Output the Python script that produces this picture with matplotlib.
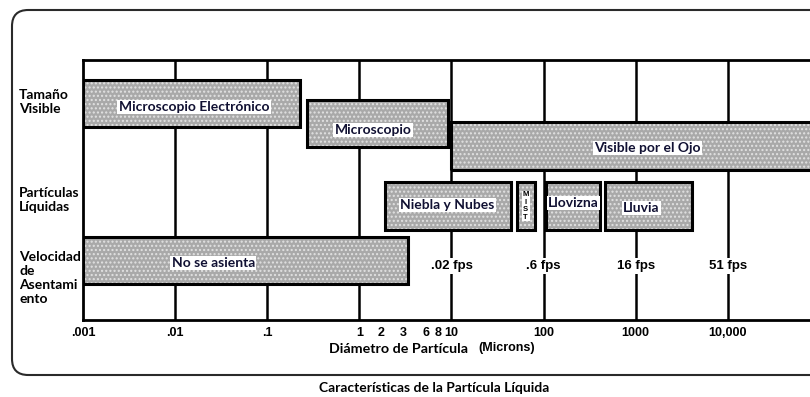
import matplotlib.pyplot as plt
import numpy as np
from matplotlib.patches import Rectangle, FancyBboxPatch
from matplotlib.transforms import ScaledTranslation

# ranges (diameter in microns)
box_labels = ["Microscopio Electrónico", "Microscopio", "Visible por el Ojo",
              "Niebla y Nubes", "MIST", "Llovizna", "Lluvia", "No se asienta"]
box_start = [0.001, 0.27, 10, 1.9, 51, 106, 463, 0.001]
box_end = [0.226, 9.1, 1e5, 44, 80, 408, 4070, 3.4]

fps_labels = [".02 fps", ".6 fps", "16 fps", "51 fps"]
fps_at = [10, 100, 1000, 10000]

tick_pos = [0.001, 0.01, 0.1, 1, 2, 3, 6, 8, 10, 100, 1000, 10000]
tick_text = [".001", ".01", ".1", "1", "2", "3", "6", "8", "10", "100", "1000", "10,000"]

row_labels = ["Tamaño\nVisible", "Partículas\nLíquidas", "Velocidad\nde\nAsentami\nento"]

# layout (y in pixel-like units, 0 = bottom of frame, 260 = top)
box_y = [(193, 240), (173, 220), (150, 198), (90, 138), (90, 138),
         (90, 138), (90, 138), (36, 83)]
label_xy = [(0.016, 213), (1.4, 190), (1350, 172), (9.0, 115), (None, 114),
            (210, 117), (1150, 112), (0.026, 57)]
row_y = [0.838, 0.46, 0.16]
tick_shift = {"2": -6, "6": -5, "8": -4}

TXT = "Lato"
fig = plt.figure(figsize=(8.1, 3.97), dpi=100)

# rounded outer frame
frame = FancyBboxPatch((12 / 810, 22 / 397), 1.2, 365 / 397,
                       boxstyle="round,pad=0,rounding_size=0.02",
                       mutation_aspect=810 / 397, transform=fig.transFigure,
                       fill=False, edgecolor="#2a2a2a", lw=1.5)
fig.patches.append(frame)

ax = fig.add_axes([83 / 810, 77 / 397, 1 - 83 / 810, 260 / 397])
ax.set_xscale("log")
ax.set_xlim(0.001, 7.8e4)
ax.set_ylim(0, 260)
for s in ["top", "bottom", "left"]:
    ax.spines[s].set_linewidth(2)
ax.spines["right"].set_visible(False)
ax.set_yticks([])
ax.set_xticks(tick_pos)
ax.set_xticklabels(tick_text, fontfamily="Liberation Sans", fontweight="bold", fontsize=9)
ax.minorticks_off()
ax.tick_params(axis="x", length=0, pad=5)
for t in ax.get_xticklabels():
    dx = tick_shift.get(t.get_text(), 0)
    if dx:
        t.set_transform(t.get_transform() + ScaledTranslation(dx / 100, 0, fig.dpi_scale_trans))

# decade lines
ax.vlines([0.01, 0.1, 1, 10, 100, 1000, 10000], 0, 260, color="black", lw=1.8, zorder=1)

for lab, x0, x1, (y0, y1), (lx, ly) in zip(box_labels, box_start, box_end, box_y, label_xy):
    ax.add_patch(Rectangle((x0, y0), x1 - x0, y1 - y0, facecolor="#a9a9a9",
                           edgecolor="none", zorder=2))
    ax.add_patch(Rectangle((x0, y0), x1 - x0, y1 - y0, fill=False, hatch="....",
                           edgecolor="#e2e2e2", lw=0, zorder=2))
    ax.add_patch(Rectangle((x0, y0), x1 - x0, y1 - y0, fill=False,
                           edgecolor="black", lw=2.2, zorder=3))
    if lab == "MIST":
        ax.text(np.sqrt(x0 * x1), ly, "M\nI\nS\nT", ha="center", va="center",
                fontsize=5.5, fontweight="bold", fontfamily="Liberation Sans",
                linespacing=1.1, zorder=4,
                bbox=dict(facecolor="white", edgecolor="none", pad=0.5))
    else:
        ax.text(lx, ly, lab, ha="center", va="center", fontsize=10,
                fontweight="bold", fontfamily=TXT, color="#111133", zorder=4,
                bbox=dict(facecolor="white", edgecolor="none", pad=1))

for lab, x in zip(fps_labels, fps_at):
    ax.text(x, 54, lab, ha="center", va="center", fontsize=9.5, fontweight="bold",
            fontfamily="Liberation Sans", zorder=4,
            bbox=dict(facecolor="white", edgecolor="none", pad=1.5))

for lab, y in zip(row_labels, row_y):
    fig.text(19 / 810, 77 / 397 + y * 260 / 397, lab, ha="left", va="center",
             fontsize=10, fontweight="bold", fontfamily=TXT, linespacing=1.2)

fig.text(329 / 810, 1 - 349 / 397, "Diámetro de Partícula", ha="left", va="center",
         fontsize=10.3, fontweight="bold", fontfamily=TXT)
fig.text(478 / 810, 1 - 348 / 397, "(Microns)", ha="left", va="center",
         fontsize=9, fontweight="bold", fontfamily="Liberation Sans")
fig.text(434 / 810, 1 - 388 / 397, "Características de la Partícula Líquida",
         ha="center", va="center", fontsize=10, fontweight="bold", fontfamily=TXT)

fig.savefig("out.png", dpi=100)
